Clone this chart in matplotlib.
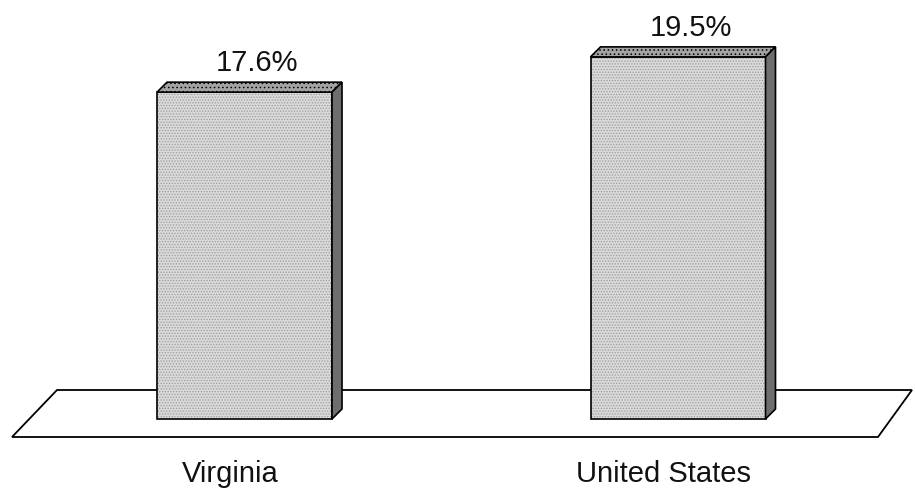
import matplotlib.pyplot as plt
from matplotlib.patches import Polygon

plt.rcParams['font.family'] = ['Liberation Sans', 'DejaVu Sans']
plt.rcParams['hatch.linewidth'] = 0.6

# data
regions = ['Virginia', 'United States']
values = [17.6, 19.5]
labels = ['17.6%', '19.5%']

# layout (x in pixels, y in percent)
centers = [244.5, 678]
width = 175
px_per_pct = 18.57
depth_x = 10
depth_y = 10 / px_per_pct

fig = plt.figure(figsize=(9.15, 4.88), dpi=100)
ax = fig.add_axes([0, 0, 1, 1])
ax.set_xlim(0, 915)
ax.set_ylim(-69 / px_per_pct, 419 / px_per_pct)
ax.axis('off')

# floor
back = 29 / px_per_pct
front = -18 / px_per_pct
floor = Polygon([(12, front), (57, back), (912, back), (878, front)],
                closed=True, facecolor='white', edgecolor='black', lw=1.3, zorder=1)
ax.add_patch(floor)

bars = ax.bar(centers, values, width, color='#d9d9d9', edgecolor='#9c9c9c',
              hatch='......', linewidth=0, zorder=2)
ax.bar(centers, values, width, fill=False, edgecolor='black', linewidth=1.2, zorder=3)

for bar, val, lab in zip(bars, values, labels):
    x0 = bar.get_x()
    x1 = x0 + bar.get_width()
    top = Polygon([(x0, val), (x0 + depth_x, val + depth_y),
                   (x1 + depth_x, val + depth_y), (x1, val)],
                  closed=True, facecolor='#a3a3a3', edgecolor='black', lw=1.2,
                  hatch='....', zorder=3)
    side = Polygon([(x1, 0), (x1, val), (x1 + depth_x, val + depth_y),
                    (x1 + depth_x, depth_y)],
                   closed=True, facecolor='#6e6e6e', edgecolor='black', lw=1.2, zorder=3)
    ax.add_patch(top)
    ax.add_patch(side)
    ax.text(x0 + width / 2 + 13, val + 1.15, lab, ha='center', va='baseline',
            fontsize=21, color='#111111')

for c, name in zip([230, 664], regions):
    ax.text(c, -63 / px_per_pct, name, ha='center', va='baseline', fontsize=21,
            color='#111111')

fig.savefig('out.png', dpi=100, facecolor='white')
